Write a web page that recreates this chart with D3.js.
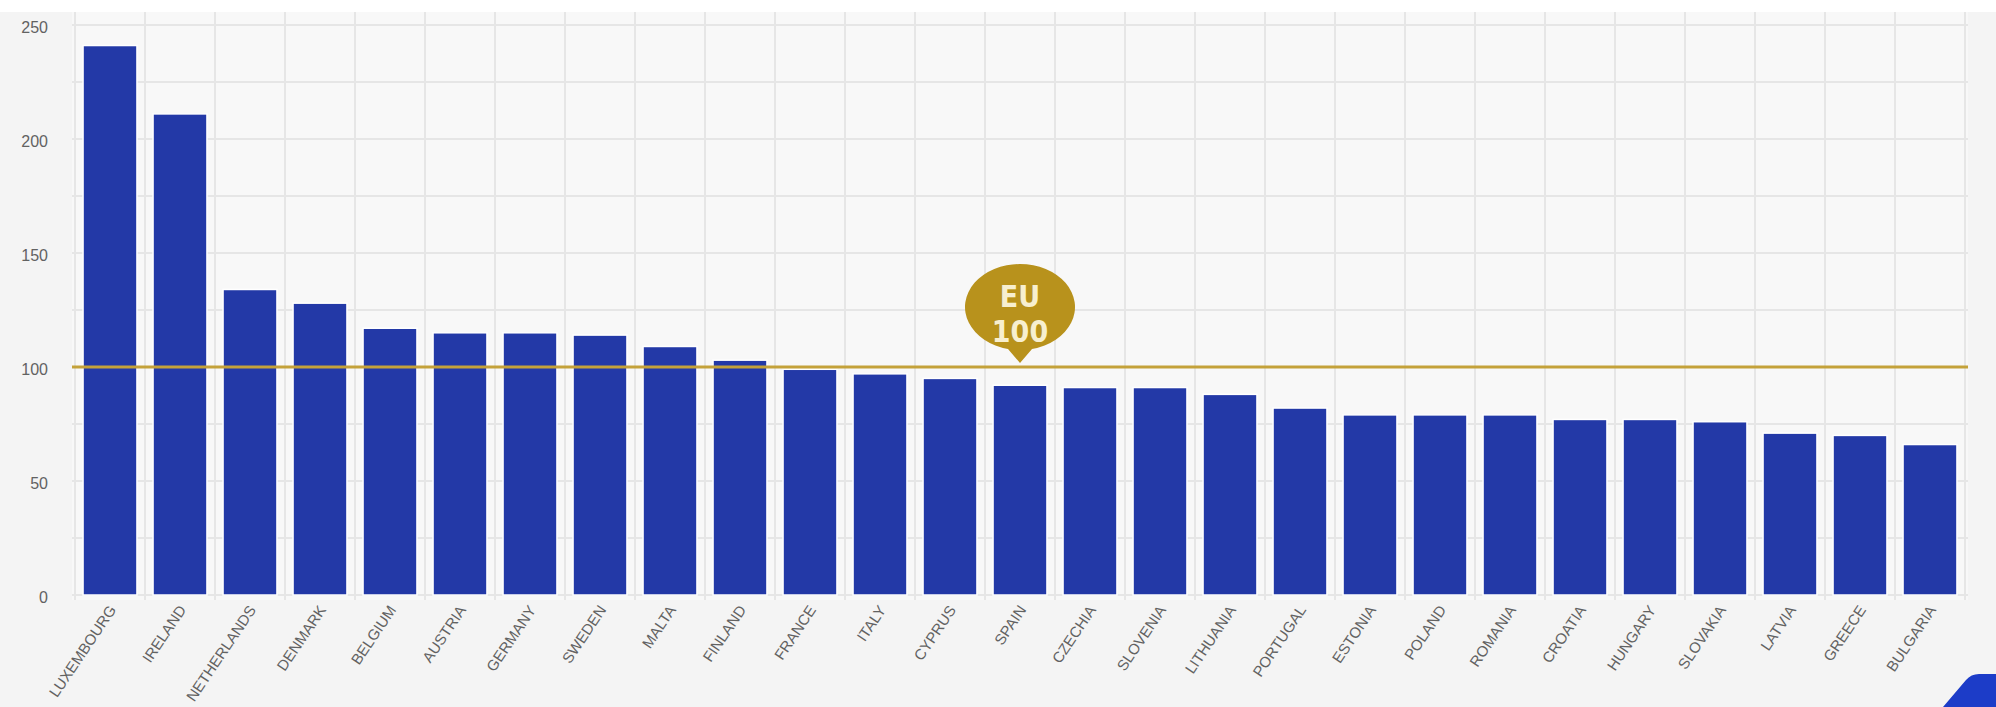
<!DOCTYPE html>
<html>
<head>
<meta charset="utf-8">
<script src="https://cdn.jsdelivr.net/npm/d3@7"></script>
<style>
  body { margin: 0; background: #f4f4f4; }
  svg { display: block; }
  .tick-label { font-family: "Liberation Sans", Arial, sans-serif; fill: #626262; }
</style>
</head>
<body>
<div id="chart"></div>
<script>
var countries = ["LUXEMBOURG", "IRELAND", "NETHERLANDS", "DENMARK", "BELGIUM", "AUSTRIA", "GERMANY",
    "SWEDEN", "MALTA", "FINLAND", "FRANCE", "ITALY", "CYPRUS", "SPAIN", "CZECHIA", "SLOVENIA",
    "LITHUANIA", "PORTUGAL", "ESTONIA", "POLAND", "ROMANIA", "CROATIA", "HUNGARY", "SLOVAKIA",
    "LATVIA", "GREECE", "BULGARIA"]
var values = [241, 211, 134, 128, 117, 115, 115, 114, 109, 103, 99, 97, 95, 92, 91, 91,
    88, 82, 79, 79, 79, 77, 77, 76, 71, 70, 66]
var yTicks = [0, 50, 100, 150, 200, 250]
var euAverage = 100
var euLabel = ["EU", "100"]
var euAnchor = "SPAIN"

var W = 1996, H = 707
var plot = {left: 72, right: 1968, top: 12, bottom: 600}

var svg = d3.select("#chart").append("svg").attr("width", W).attr("height", H)

// top white strip
svg.append("rect").attr("x", 0).attr("y", 0).attr("width", W).attr("height", plot.top).attr("fill", "#ffffff")
// plot background
svg.append("rect").attr("x", plot.left).attr("y", plot.top)
    .attr("width", plot.right - plot.left).attr("height", plot.bottom - plot.top)
    .attr("fill", "#f8f8f8")

var x = d3.scaleBand().domain(countries).range([75, 1965]).paddingInner(0.23).paddingOuter(0.115)
var y = d3.scaleLinear().domain([0, 250]).range([595, 25])

/* grid */
var grid = svg.append("g").attr("stroke", "#e6e6e6").attr("stroke-width", 2)
grid.selectAll(".hgrid").data(d3.range(0, 251, 25)).enter().append("line")
    .attr("x1", plot.left).attr("x2", plot.right)
    .attr("y1", function(d){ return y(d) }).attr("y2", function(d){ return y(d) })
grid.selectAll(".vgrid").data(d3.range(countries.length + 1)).enter().append("line")
    .attr("y1", plot.top).attr("y2", plot.bottom)
    .attr("x1", function(i){ return 75 + i * x.step() }).attr("x2", function(i){ return 75 + i * x.step() })

/* bars */
svg.selectAll(".bar").data(values).enter().append("rect")
    .attr("class", "bar")
    .attr("x", function(d, i){ return x(countries[i]) })
    .attr("width", x.bandwidth())
    .attr("y", function(d){ return y(d) })
    .attr("height", function(d){ return y(0) - y(d) })
    .attr("fill", "#2339a7")
    .attr("stroke", "#ffffff").attr("stroke-width", 1.5)

/* y axis */
var yAxis = d3.axisLeft(y).tickValues(yTicks).tickSize(0).tickPadding(0)
var yg = svg.append("g").attr("transform", "translate(48,2)").call(yAxis)
yg.select(".domain").remove()
yg.selectAll("text").attr("class", "tick-label").style("font-size", "16px")

/* x axis */
var xAxis = d3.axisBottom(x).tickSize(0).tickPadding(0)
var xg = svg.append("g").attr("transform", "translate(0,604)").call(xAxis)
xg.select(".domain").remove()
xg.selectAll("text")
    .attr("class", "tick-label")
    .style("font-size", "15px")
    .attr("text-anchor", "end")
    .attr("dy", "0.7em")
    .attr("transform", "translate(-2,0) rotate(-56)")

/* EU average line */
svg.append("line")
    .attr("x1", plot.left).attr("x2", plot.right)
    .attr("y1", y(euAverage)).attr("y2", y(euAverage))
    .attr("stroke", "#c4a23a").attr("stroke-width", 3)

/* EU balloon */
var bx = x(euAnchor) + x.bandwidth() / 2
var tipY = y(euAverage) - 4
var balloon = svg.append("g").attr("transform", "translate(" + bx + "," + tipY + ")")
balloon.append("path")
    .attr("d", "M0,0 L-12,-14 A55,43 0 1 1 12,-14 Z")
    .attr("fill", "#b8921c")
balloon.selectAll("text").data(euLabel).enter().append("text")
    .attr("x", 0)
    .attr("y", function(d, i){ return i === 0 ? -56 : -21 })
    .attr("text-anchor", "middle")
    .attr("fill", "#f7efcf")
    .style("font-family", "'DejaVu Sans Condensed', 'Liberation Sans Narrow', 'Liberation Sans', sans-serif")
    .style("font-size", "30px")
    .style("font-weight", "bold")
    .text(function(d){ return d })

/* corner badge */
svg.append("path")
    .attr("d", "M1943,707 L1966,680 Q1971,674 1979,674 L1996,674 L1996,707 Z")
    .attr("fill", "#1c3cc8")
</script>
</body>
</html>
